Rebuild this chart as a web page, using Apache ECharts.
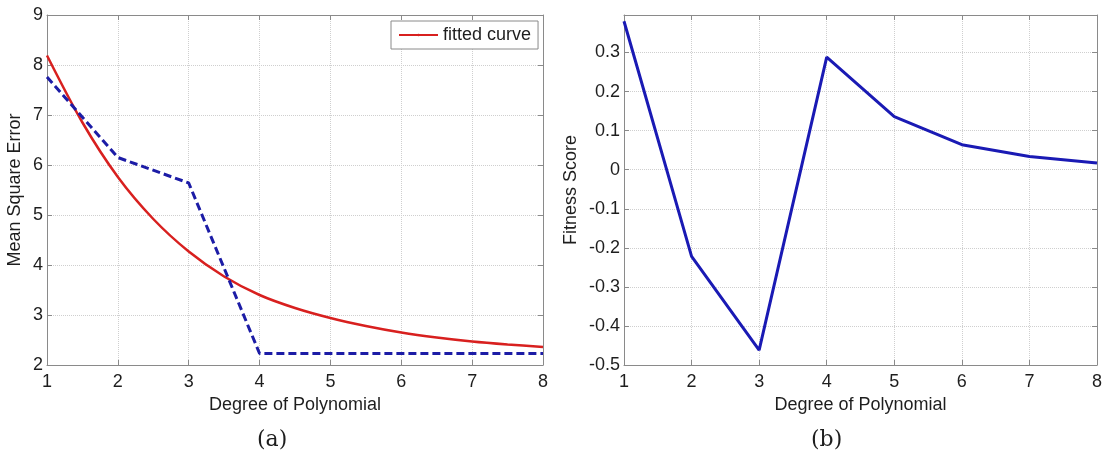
<!DOCTYPE html>
<html>
<head>
<meta charset="utf-8">
<script src="https://cdn.jsdelivr.net/npm/echarts@6/dist/echarts.min.js"></script>
<style>
  html, body { margin: 0; padding: 0; background: #fff; }
  #chart { width: 1106px; height: 457px; }
</style>
</head>
<body>
<div id="chart"></div>
<script>
// Polynomial degree on the x axis of both panels
const degrees = [1, 2, 3, 4, 5, 6, 7, 8];
// (a) measured mean square error per degree (dashed blue)
const mseValues = [7.76, 6.15, 5.64, 2.23, 2.23, 2.23, 2.23, 2.23];
// (a) fitted curve samples (solid red)
const fitDegrees = [1, 1.5, 2, 2.5, 3, 3.5, 4, 4.5, 5, 5.5, 6, 6.5, 7, 7.5, 8];
const fitValues = [8.19, 6.85, 5.76, 4.92, 4.27, 3.77, 3.40, 3.14, 2.94, 2.78, 2.65, 2.55, 2.47, 2.41, 2.36];
// (b) fitness score per degree
const fitnessValues = [0.380, -0.222, -0.462, 0.288, 0.136, 0.064, 0.034, 0.017];
// Tick labels
const xTicks = ['1', '2', '3', '4', '5', '6', '7', '8'];

const TEXT = '#1e1e1e';
const FRAME = '#8a8a8a';
const FONT = 'Liberation Sans, Arial, sans-serif';

const pair = (xs, ys) => xs.map((x, i) => [x, ys[i]]);

function xAxisPair(gridIndex) {
  const common = {
    type: 'value', gridIndex, min: 1, max: 8, interval: 1,
    axisLine: { show: true, onZero: false, lineStyle: { color: FRAME, width: 1 } },
    axisTick: { show: true, inside: true, length: 5, lineStyle: { color: FRAME } }
  };
  return [
    Object.assign({}, common, {
      position: 'bottom',
      axisLabel: { color: TEXT, fontSize: 18, fontFamily: FONT, margin: 8,
                   formatter: v => xTicks[Math.round(v) - 1] },
      splitLine: { show: true, lineStyle: { color: '#cfcfcf', type: 'dotted', width: 1 } },
      name: 'Degree of Polynomial', nameLocation: 'middle', nameGap: 27,
      nameTextStyle: { color: TEXT, fontSize: 18, fontFamily: FONT }
    }),
    Object.assign({}, common, {
      position: 'top',
      axisLabel: { show: false },
      splitLine: { show: false }
    })
  ];
}

function yAxisPair(gridIndex, min, max, interval, name, nameGap, fmt) {
  const common = {
    type: 'value', gridIndex, min, max, interval,
    axisLine: { show: true, onZero: false, lineStyle: { color: FRAME, width: 1 } },
    axisTick: { show: true, inside: true, length: 5, lineStyle: { color: FRAME } }
  };
  return [
    Object.assign({}, common, {
      position: 'left',
      axisLabel: { color: TEXT, fontSize: 18, fontFamily: FONT, margin: 4,
                   showMaxLabel: gridIndex === 0, formatter: fmt },
      splitLine: { show: true, lineStyle: { color: '#cfcfcf', type: 'dotted', width: 1 } },
      name, nameLocation: 'middle', nameGap,
      nameTextStyle: { color: TEXT, fontSize: 18, fontFamily: FONT }
    }),
    Object.assign({}, common, {
      position: 'right',
      axisLabel: { show: false },
      splitLine: { show: false }
    })
  ];
}

const chart = echarts.init(document.getElementById('chart'), null, { renderer: 'canvas' });

chart.setOption({
  animation: false,
  backgroundColor: '#fff',
  grid: [
    { left: 47, top: 15, width: 496, height: 350 },
    { left: 624, top: 15, width: 473, height: 350 }
  ],
  xAxis: [...xAxisPair(0), ...xAxisPair(1)],
  yAxis: [
    ...yAxisPair(0, 2, 9, 1, 'Mean Square Error', 23, v => String(v)),
    ...yAxisPair(1, -0.5, 0.396, 0.1, 'Fitness Score', 44,
                 v => String(Math.round(v * 10) / 10))
  ],
  legend: {
    show: true,
    data: ['fitted curve'],
    left: 391, top: 21,
    padding: [5, 7, 5, 7],
    itemWidth: 39, itemHeight: 3,
    itemGap: 4,
    backgroundColor: '#fff',
    borderColor: FRAME, borderWidth: 1,
    textStyle: { color: TEXT, fontSize: 18, fontFamily: FONT }
  },
  series: [
    {
      name: 'fitted curve', type: 'line',
      xAxisIndex: 0, yAxisIndex: 0,
      data: pair(fitDegrees, fitValues),
      smooth: 0.3, symbol: 'none',
      lineStyle: { color: '#d8201f', width: 2.5 },
      itemStyle: { color: '#d8201f' },
      z: 3
    },
    {
      name: 'mse', type: 'line',
      xAxisIndex: 0, yAxisIndex: 0,
      data: pair(degrees, mseValues),
      symbol: 'none',
      lineStyle: { color: '#1c1ca6', width: 3, type: [8, 4] },
      z: 4
    },
    {
      name: 'fitness', type: 'line',
      xAxisIndex: 2, yAxisIndex: 2,
      data: pair(degrees, fitnessValues),
      symbol: 'none',
      lineStyle: { color: '#1a1ab4', width: 3 },
      z: 3
    }
  ],
  graphic: [
    { type: 'text', left: 257, top: 429,
      style: { text: '(a)', fill: TEXT, fontSize: 22, fontFamily: 'DejaVu Serif, serif' } },
    { type: 'text', left: 811, top: 429,
      style: { text: '(b)', fill: TEXT, fontSize: 22, fontFamily: 'DejaVu Serif, serif' } }
  ]
});
</script>
</body>
</html>
